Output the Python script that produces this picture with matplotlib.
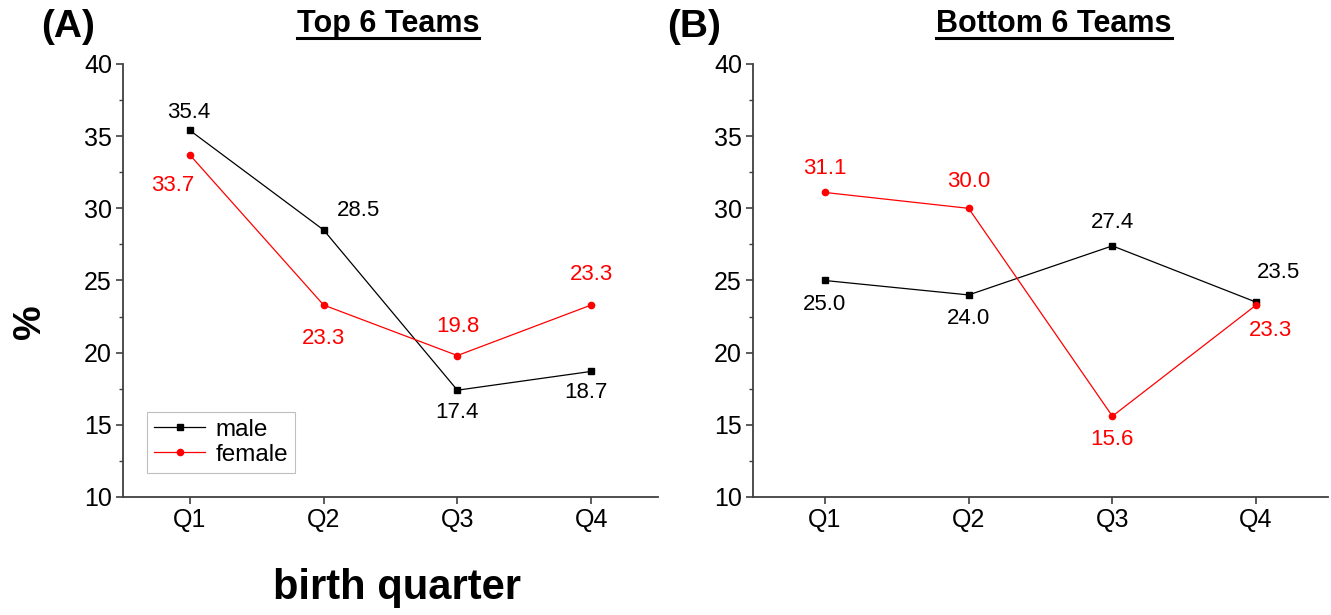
import matplotlib
matplotlib.use("Agg")
import matplotlib.pyplot as plt
from matplotlib.lines import Line2D
from matplotlib.ticker import MultipleLocator

plt.rcParams['font.family'] = ['Liberation Sans', 'DejaVu Sans']

quarters = ['Q1', 'Q2', 'Q3', 'Q4']

# panel A - top 6 teams
top_male = [35.4, 28.5, 17.4, 18.7]
top_female = [33.7, 23.3, 19.8, 23.3]

# panel B - bottom 6 teams
bottom_male = [25.0, 24.0, 27.4, 23.5]
bottom_female = [31.1, 30.0, 15.6, 23.3]

# label offsets (points) for the value annotations
top_male_off = [(-1, 13), (25, 14), (0, -16), (-4, -15)]
top_female_off = [(-12, -22), (0, -24), (0, 21), (0, 22)]
bottom_male_off = [(0, -17), (0, -17), (0, 17), (16, 21)]
bottom_female_off = [(0, 17), (0, 19), (0, -17), (10, -18)]

W, H = 1331, 615
fig = plt.figure(figsize=(W / 100, H / 100), dpi=100)

ax_a = fig.add_axes([123 / W, 1 - 497 / H, 535 / W, 433 / H])
ax_b = fig.add_axes([753 / W, 1 - 497 / H, 575 / W, 433 / H])

spine_col = '#404040'


def draw_panel(ax, male, female, m_off, f_off):
    x = list(range(1, len(quarters) + 1))
    ax.plot(x, male, color='black', lw=0.9, marker='s', ms=4, label='male')
    ax.plot(x, female, color='#ff0000', lw=0.9, marker='o', ms=4.5, label='female')
    for xi, v, off in zip(x, male, m_off):
        ax.annotate(f'{v:.1f}', (xi, v), xytext=off, textcoords='offset points',
                    ha='center', va='center', fontsize=16, color='black')
    for xi, v, off in zip(x, female, f_off):
        ax.annotate(f'{v:.1f}', (xi, v), xytext=off, textcoords='offset points',
                    ha='center', va='center', fontsize=16, color='#ff0000')

    ax.set_xlim(0.5, 4.5)
    ax.set_ylim(10, 40)
    ax.set_xticks(x)
    ax.set_xticklabels(quarters)
    ax.yaxis.set_major_locator(MultipleLocator(5))
    ax.yaxis.set_minor_locator(MultipleLocator(2.5))
    for s in ['top', 'right']:
        ax.spines[s].set_visible(False)
    for s in ['left', 'bottom']:
        ax.spines[s].set_color(spine_col)
        ax.spines[s].set_linewidth(1.3)
    ax.tick_params(which='major', direction='out', length=5, width=1.2,
                   color=spine_col, labelsize=18, pad=3)
    ax.tick_params(which='minor', direction='out', length=3, width=1.0, color=spine_col)
    ax.tick_params(axis='x', which='minor', bottom=False)


draw_panel(ax_a, top_male, top_female, top_male_off, top_female_off)
draw_panel(ax_b, bottom_male, bottom_female, bottom_male_off, bottom_female_off)

leg = ax_a.legend(loc='lower left', bbox_to_anchor=(0.045, 0.055), fontsize=17.5,
                  frameon=True, fancybox=False, edgecolor='#b0b0b0',
                  handlelength=2.1, handletextpad=0.4, borderpad=0.3,
                  labelspacing=0.12, borderaxespad=0)
leg.get_frame().set_linewidth(0.8)

# panel letters and titles
fig.text(68 / W, 1 - 27 / H, '(A)', fontsize=28, fontweight='bold', ha='center', va='center')
fig.text(694 / W, 1 - 27 / H, '(B)', fontsize=28, fontweight='bold', ha='center', va='center')
t_a = fig.text(388 / W, 1 - 24 / H, 'Top 6 Teams', fontsize=22, fontweight='bold',
               ha='center', va='center')
t_b = fig.text(1054 / W, 1 - 24 / H, 'Bottom 6 Teams', fontsize=22, fontweight='bold',
               ha='center', va='center')
fig.text(30 / W, 1 - 322 / H, '%', fontsize=28, fontweight='bold', rotation=90,
         ha='center', va='center')
fig.text(397 / W, 1 - 588 / H, 'birth quarter', fontsize=30, fontweight='bold',
         ha='center', va='center')

# underline the titles
fig.canvas.draw()
r = fig.canvas.get_renderer()
for t in (t_a, t_b):
    bb = t.get_window_extent(r)
    y = (bb.y0 + 1) / H
    fig.add_artist(Line2D([bb.x0 / W, bb.x1 / W], [y, y], color='black', lw=2.2))

fig.savefig('out.png', dpi=100)
